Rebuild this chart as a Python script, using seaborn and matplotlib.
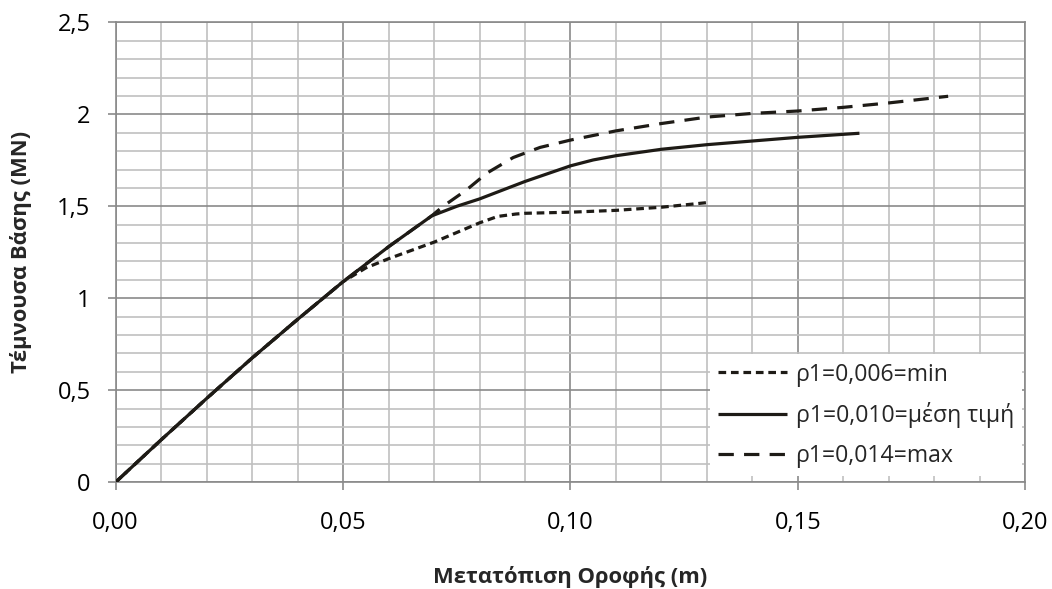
import numpy as np
import pandas as pd
import matplotlib
matplotlib.use("Agg")
import matplotlib.pyplot as plt
from matplotlib.ticker import MultipleLocator, FuncFormatter
import seaborn as sns

# ---- data ----
x_min = [0.0, 0.01, 0.02, 0.03, 0.04, 0.05, 0.055, 0.06, 0.07, 0.08, 0.084, 0.088, 0.09, 0.10, 0.11, 0.12, 0.130]
y_min = [0.0, 0.23, 0.455, 0.675, 0.885, 1.09, 1.165, 1.215, 1.305, 1.41, 1.445, 1.458, 1.462, 1.468, 1.478, 1.495, 1.52]

x_mid = [0.0, 0.01, 0.02, 0.03, 0.04, 0.05, 0.06, 0.0695, 0.075, 0.08, 0.09, 0.10, 0.105, 0.11, 0.12, 0.13, 0.14, 0.15, 0.1635]
y_mid = [0.0, 0.23, 0.455, 0.675, 0.885, 1.09, 1.28, 1.448, 1.50, 1.54, 1.635, 1.72, 1.752, 1.775, 1.81, 1.835, 1.855, 1.875, 1.897]

x_max = [0.0, 0.01, 0.02, 0.03, 0.04, 0.05, 0.06, 0.0695, 0.072, 0.0772, 0.0816, 0.0874, 0.0933, 0.10, 0.11, 0.12, 0.13, 0.14, 0.15, 0.16, 0.17, 0.183]
y_max = [0.0, 0.23, 0.455, 0.675, 0.885, 1.09, 1.28, 1.448, 1.50, 1.59, 1.68, 1.765, 1.82, 1.86, 1.91, 1.95, 1.985, 2.005, 2.018, 2.038, 2.062, 2.098]

labels = ["ρ1=0,006=min", "ρ1=0,010=μέση τιμή", "ρ1=0,014=max"]
x_ticks = [0.0, 0.05, 0.10, 0.15, 0.20]
y_ticks = [0.0, 0.5, 1.0, 1.5, 2.0, 2.5]
x_title = "Μετατόπιση Οροφής (m)"
y_title = "Τέμνουσα Βάσης (MN)"

sns.set_theme(style="white")
plt.rcParams["font.family"] = ["Open Sans", "DejaVu Sans"]

FS_TICK = 17
FS_LEG = 16.6
FS_LAB = 15.8
LINE = "#1e1b16"
fig = plt.figure(figsize=(10.52, 5.89), dpi=100)
ax = fig.add_axes([0.1098, 0.1812, 0.8650, 0.7809])

series = [(x_min, y_min, (0, (2.4, 1.5))),
          (x_mid, y_mid, "-"),
          (x_max, y_max, (0, (4.8, 3.2)))]
for (xs, ys, ls), lab in zip(series, labels):
    df = pd.DataFrame({"x": xs, "y": ys})
    sns.lineplot(data=df, x="x", y="y", ax=ax, color=LINE, linewidth=2.3,
                 linestyle=ls, label=lab, sort=False, estimator=None,
                 solid_capstyle="butt", dash_capstyle="butt", zorder=3)

ax.set_xlim(0, 0.20)
ax.set_ylim(0, 2.5)
ax.set_xticks(x_ticks)
ax.set_yticks(y_ticks)
ax.xaxis.set_minor_locator(MultipleLocator(0.01))
ax.yaxis.set_minor_locator(MultipleLocator(0.1))
ax.xaxis.set_major_formatter(FuncFormatter(lambda v, p: f"{v:.2f}".replace(".", ",")))
ax.yaxis.set_major_formatter(FuncFormatter(lambda v, p: (f"{v:g}").replace(".", ",")))

ax.grid(which="minor", color="#c0c0c0", linewidth=1.2, zorder=0)
ax.grid(which="major", color="#8a8a8a", linewidth=1.2, zorder=1)
ax.set_axisbelow(True)
for s in ax.spines.values():
    s.set_color("#8a8a8a")
    s.set_linewidth(1.2)

ax.tick_params(which="major", direction="out", length=6, width=1.2, color="#8a8a8a",
               labelsize=FS_TICK, labelcolor="black", bottom=True, left=True)
ax.tick_params(axis="y", which="major", pad=12)
ax.tick_params(axis="x", which="major", pad=15)
ax.tick_params(which="minor", length=0)

ax.set_xlabel(x_title, fontsize=FS_LAB, fontweight="bold", labelpad=22)
ax.set_ylabel(y_title, fontsize=FS_LAB, fontweight="bold", labelpad=18)

leg = ax.legend(loc="lower right", bbox_to_anchor=(0.996, 0.0137), frameon=True,
                facecolor="white", edgecolor="none", fancybox=False, framealpha=1,
                fontsize=FS_LEG, handlelength=3.0, handletextpad=0.35, labelspacing=0.68,
                borderpad=0.35, borderaxespad=0)
leg.set_zorder(5)

fig.savefig("out.png", dpi=100)
